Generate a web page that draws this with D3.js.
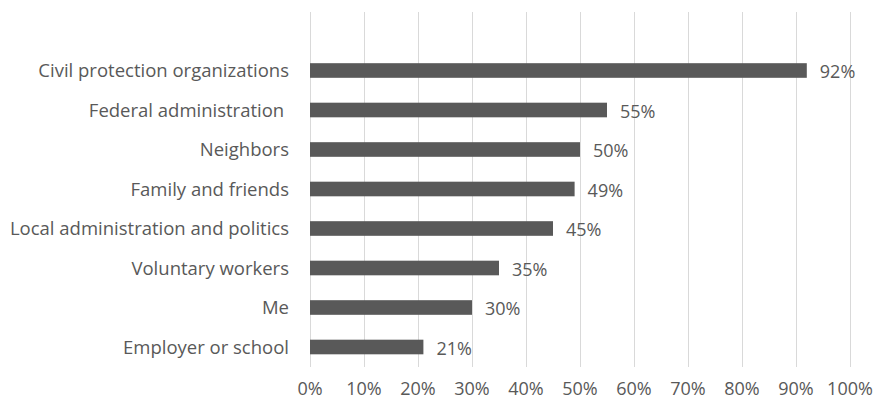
<!DOCTYPE html>
<html>
<head>
<meta charset="utf-8">
<script src="https://cdn.jsdelivr.net/npm/d3@7"></script>
<style>
  body { margin: 0; background: #fff; }
  svg text { font-family: "Open Sans", sans-serif; fill: #595959; white-space: pre; }
</style>
</head>
<body>
<svg id="chart" width="874" height="401"></svg>
<script>
var categories = ["Civil protection organizations", "Federal administration ", "Neighbors",
	"Family and friends", "Local administration and politics", "Voluntary workers", "Me", "Employer or school"];
var values = [92, 55, 50, 49, 45, 35, 30, 21];
var tick_values = [0, 10, 20, 30, 40, 50, 60, 70, 80, 90, 100];

var svg = d3.select("#chart");

var x_scale = d3.scaleLinear().domain([0, 100]).range([310, 850]);
var y_scale = d3.scaleBand()
  .domain(categories)
  .range([50.75, 366.75])
  .paddingInner(0.63)
  .paddingOuter(0.315);

// gridlines
svg.append("g")
  .selectAll("line")
  .data(tick_values)
  .enter().append("line")
  .attr("x1", d=>x_scale(d) + 0.5)
  .attr("x2", d=>x_scale(d) + 0.5)
  .attr("y1", 12)
  .attr("y2", 367)
  .style("stroke", "#d9d9d9")
  .style("stroke-width", 1);

// tick labels
svg.append("g")
  .selectAll("text")
  .data(tick_values)
  .enter().append("text")
  .attr("x", d=>x_scale(d))
  .attr("y", 395)
  .attr("text-anchor", "middle")
  .style("font-size", "18px")
  .text(d=>d + "%");

var data = categories.map((c, i)=>({name: c, value: values[i]}));

// bars
svg.append("g")
  .selectAll("rect")
  .data(data)
  .enter().append("rect")
  .attr("x", x_scale(0))
  .attr("y", d=>y_scale(d.name))
  .attr("width", d=>x_scale(d.value) - x_scale(0))
  .attr("height", y_scale.bandwidth())
  .style("fill", "#595959");

// category labels
svg.append("g")
  .selectAll("text")
  .data(data)
  .enter().append("text")
  .attr("x", 289)
  .attr("y", d=>y_scale(d.name) + y_scale.bandwidth() / 2)
  .attr("dy", "0.36em")
  .attr("text-anchor", "end")
  .style("font-size", "18.5px")
  .text(d=>d.name);

// value labels
svg.append("g")
  .selectAll("text")
  .data(data)
  .enter().append("text")
  .attr("x", d=>x_scale(d.value) + 13)
  .attr("y", d=>y_scale(d.name) + y_scale.bandwidth() / 2)
  .attr("dy", "0.42em")
  .style("font-size", "18px")
  .text(d=>d.value + "%");
</script>
</body>
</html>
